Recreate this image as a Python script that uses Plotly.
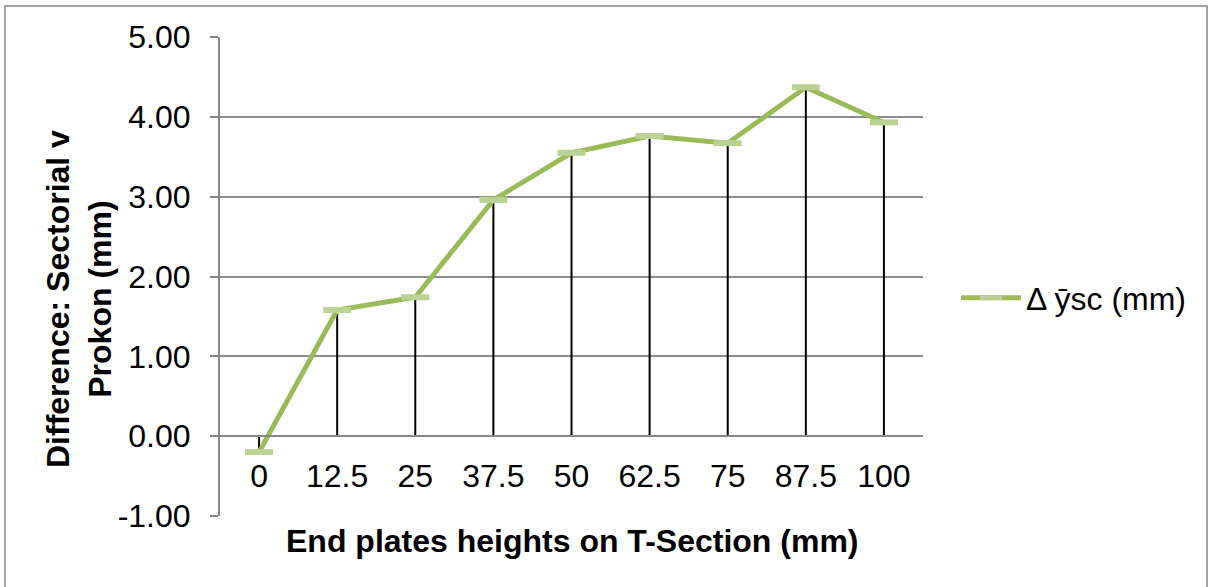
import plotly.graph_objects as go

# ---- data ----
categories = ["0", "12.5", "25", "37.5", "50", "62.5", "75", "87.5", "100"]
delta_ysc = [-0.20, 1.58, 1.74, 2.96, 3.55, 3.76, 3.67, 4.37, 3.93]
series_name = "Δ ȳsc (mm)"
y_tick_values = [-1, 0, 1, 2, 3, 4, 5]
y_tick_labels = ["-1.00", "0.00", "1.00", "2.00", "3.00", "4.00", "5.00"]
x_title = "End plates heights on T-Section (mm)"
y_title = "Difference: Sectorial v<br>Prokon (mm)"

# ---- layout constants (pixels) ----
W, H = 1208, 587
L, R, T, B = 220, 285, 37, 71
PW, PH = W - L - R, H - T - B
YMIN, YMAX = -1, 5
FONT = "Arial, Liberation Sans, sans-serif"
FS = 32
GRID = "#8c8c8c"


def px_x(px):
    return (px - L) / PW


def px_y(py):
    return (H - B - py) / PH


fig = go.Figure()

# drop lines from each point to the category axis (y = 0)
drop_x, drop_y = [], []
for c, v in zip(categories, delta_ysc):
    drop_x += [c, c, None]
    drop_y += [v, 0, None]
fig.add_trace(go.Scatter(
    x=drop_x, y=drop_y, mode="lines",
    line=dict(color="black", width=2),
    showlegend=False, hoverinfo="skip",
))

fig.add_trace(go.Scatter(
    x=categories, y=delta_ysc, mode="lines+markers", name=series_name,
    line=dict(color="#9bbb59", width=5),
    marker=dict(symbol="line-ew", size=20, color="#bad393",
                line=dict(color="#bad393", width=6)),
))

fig.update_layout(
    width=W, height=H,
    margin=dict(l=L, r=R, t=T, b=B, pad=0),
    paper_bgcolor="white", plot_bgcolor="white",
    font=dict(family=FONT, size=FS, color="black"),
    showlegend=True,
    legend=dict(x=px_x(956), y=px_y(298), xanchor="left", yanchor="middle",
                font=dict(size=FS, family=FONT), itemwidth=60,
                bgcolor="rgba(0,0,0,0)"),
    xaxis=dict(
        type="category", categoryorder="array", categoryarray=categories,
        range=[-0.5, len(categories) - 0.5],
        anchor="free", position=(0 - YMIN) / (YMAX - YMIN),
        showline=True, linecolor="#868686", linewidth=2,
        showgrid=False, zeroline=False, ticks="",
        ticklabelstandoff=11,
        tickfont=dict(size=FS, family=FONT, color="black"),
    ),
    yaxis=dict(
        range=[YMIN, YMAX],
        tickvals=y_tick_values, ticktext=y_tick_labels,
        showline=True, linecolor="#868686", linewidth=2,
        ticks="outside", ticklen=8, tickcolor="#868686", tickwidth=2,
        ticklabelstandoff=13,
        showgrid=True, gridcolor=GRID, gridwidth=2,
        zeroline=False,
        tickfont=dict(size=FS, family=FONT, color="black"),
    ),
    annotations=[
        dict(text=x_title, xref="paper", yref="paper",
             x=px_x(572), y=px_y(541), xanchor="center", yanchor="middle",
             showarrow=False, font=dict(size=FS, family=FONT, weight="bold")),
        dict(text=y_title, xref="paper", yref="paper",
             x=px_x(79), y=px_y(299), xanchor="center", yanchor="middle",
             textangle=-90, showarrow=False,
             font=dict(size=FS, family=FONT, weight="bold")),
    ],
    shapes=[
        dict(type="rect", xref="paper", yref="paper",
             x0=px_x(5), x1=px_x(1207), y0=px_y(592), y1=px_y(6),
             line=dict(color="#868686", width=1.5), layer="below"),
    ],
)

fig.write_html("out.html")
